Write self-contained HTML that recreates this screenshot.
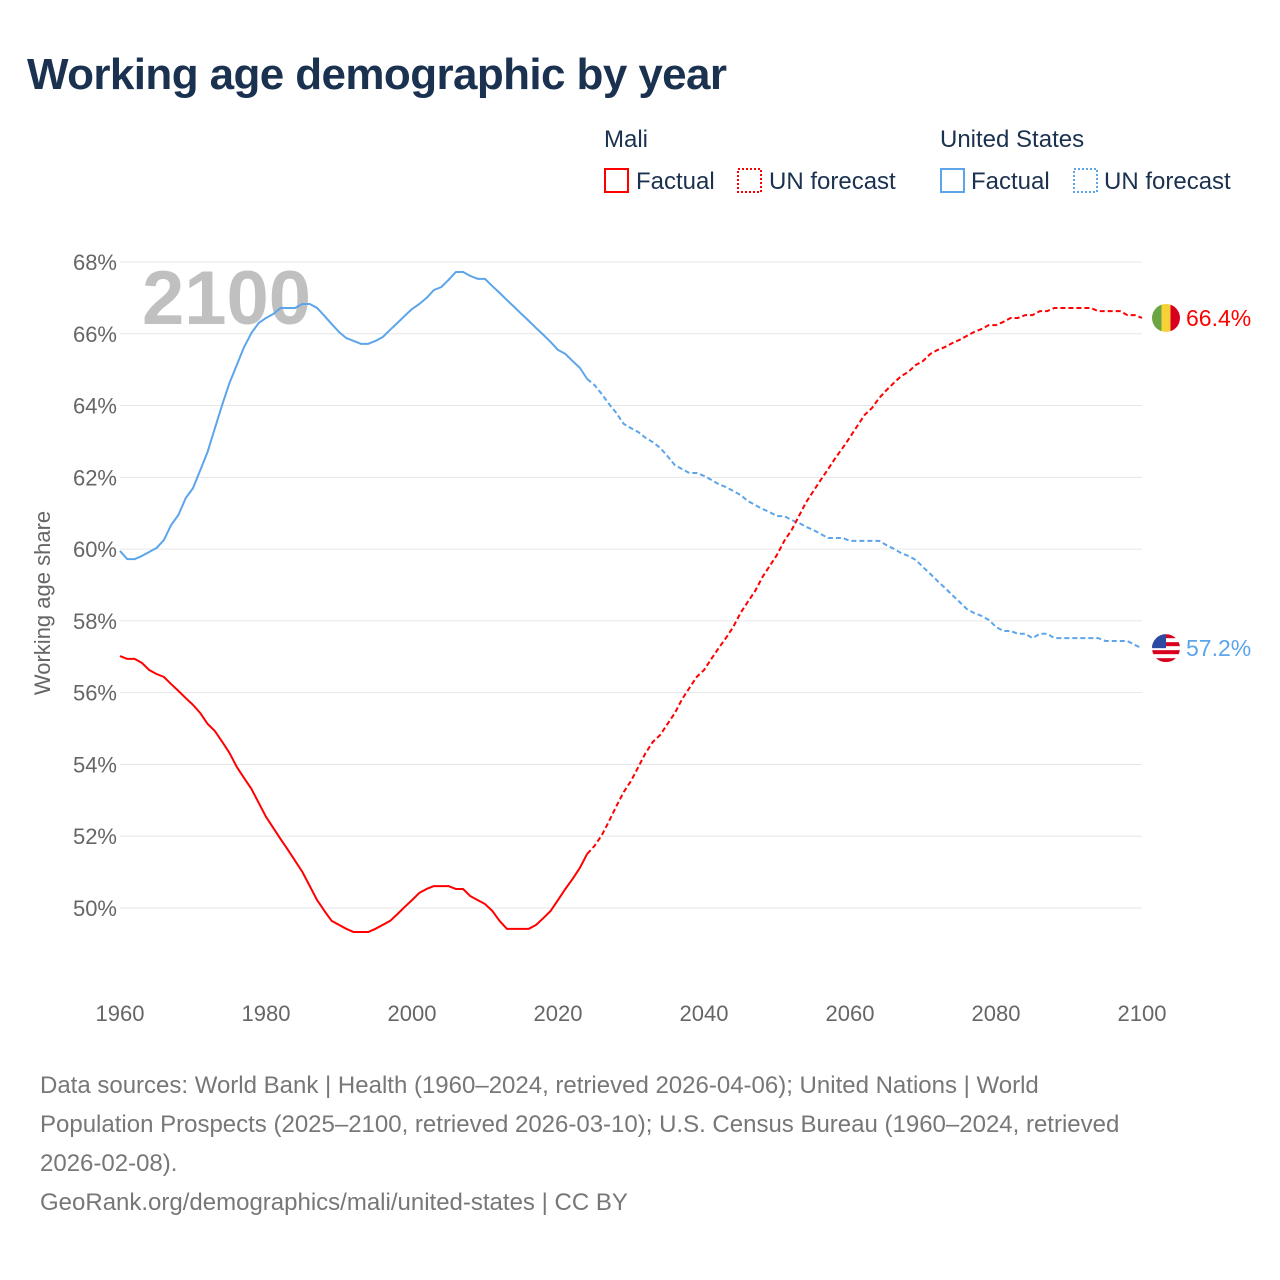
<!DOCTYPE html>
<html><head><meta charset="utf-8"><style>
body{margin:0;width:1280px;height:1280px;background:#fff;font-family:"Liberation Sans",sans-serif;overflow:hidden;position:relative}
.t{position:absolute;white-space:nowrap}
</style></head><body>
<div class="t" style="left:27px;top:50px;font-size:44px;font-weight:bold;color:#1b3150;letter-spacing:-0.6px">Working age demographic by year</div>
<svg width="1280" height="1280" style="position:absolute;left:0;top:0" id="chart">
<g font-size="24" fill="#1b3150">
<text x="604" y="147">Mali</text>
<text x="940" y="147">United States</text>
<g><rect x="605" y="169" width="23" height="23" fill="none" stroke="#f00" stroke-width="2"/><text x="636" y="189">Factual</text></g>
<g><rect x="738" y="169" width="23" height="23" fill="none" stroke="#f00" stroke-width="2" stroke-dasharray="2,2"/><text x="769" y="189">UN forecast</text></g>
<g><rect x="941" y="169" width="23" height="23" fill="none" stroke="#5ca5ea" stroke-width="2"/><text x="971" y="189">Factual</text></g>
<g><rect x="1074" y="169" width="23" height="23" fill="none" stroke="#5ca5ea" stroke-width="2" stroke-dasharray="2,2"/><text x="1104" y="189">UN forecast</text></g>
</g>
<text x="142" y="324" font-size="76" font-weight="bold" fill="#c0c0c0">2100</text>
<g id="grid"></g><g id="lines"></g>
<text transform="translate(50,603) rotate(-90)" text-anchor="middle" font-size="22" fill="#666">Working age share</text>
</svg>
<div class="t" style="left:40px;top:1066px;font-size:24px;line-height:39px;color:#777">Data sources: World Bank | Health (1960–2024, retrieved 2026-04-06); United Nations | World<br>Population Prospects (2025–2100, retrieved 2026-03-10); U.S. Census Bureau (1960–2024, retrieved<br>2026-02-08).<br>GeoRank.org/demographics/mali/united-states | CC BY</div>
<script>
const startYear=1960;
const lastFactualYear=2024;
const yTicks=[50,52,54,56,58,60,62,64,66,68];
const xTicks=[1960,1980,2000,2020,2040,2060,2080,2100];
const mali=[57.02,56.94,56.94,56.83,56.63,56.52,56.44,56.24,56.05,55.85,
55.66,55.43,55.13,54.93,54.63,54.32,53.93,53.62,53.32,52.93,
52.54,52.23,51.92,51.62,51.31,51.00,50.61,50.22,49.92,49.64,
49.53,49.42,49.33,49.33,49.33,49.42,49.53,49.64,49.83,50.03,
50.22,50.42,50.53,50.61,50.61,50.61,50.53,50.53,50.33,50.22,
50.11,49.92,49.64,49.42,49.42,49.42,49.42,49.53,49.72,49.92,
50.22,50.53,50.81,51.12,51.51,51.73,52.03,52.42,52.84,53.23,
53.54,53.93,54.32,54.63,54.82,55.13,55.43,55.82,56.13,56.44,
56.63,56.94,57.24,57.52,57.83,58.22,58.53,58.83,59.22,59.53,
59.84,60.23,60.53,60.92,61.31,61.62,61.93,62.23,62.54,62.82,
63.12,63.43,63.74,63.93,64.21,64.43,64.63,64.82,64.94,65.13,
65.24,65.44,65.55,65.63,65.74,65.83,65.94,66.05,66.13,66.24,
66.24,66.33,66.44,66.44,66.52,66.52,66.63,66.63,66.72,66.72,
66.72,66.72,66.72,66.72,66.63,66.63,66.63,66.63,66.52,66.52,
66.44];
const us=[59.95,59.72,59.72,59.81,59.92,60.03,60.25,60.67,60.95,61.42,
61.70,62.20,62.71,63.37,64.02,64.63,65.13,65.63,66.02,66.30,
66.44,66.55,66.72,66.72,66.72,66.83,66.83,66.72,66.50,66.27,
66.05,65.88,65.80,65.72,65.72,65.80,65.91,66.11,66.30,66.50,
66.69,66.83,67.00,67.22,67.30,67.50,67.72,67.72,67.61,67.53,
67.53,67.33,67.14,66.94,66.75,66.55,66.36,66.16,65.97,65.77,
65.55,65.44,65.24,65.05,64.74,64.57,64.32,64.04,63.79,63.49,
63.37,63.26,63.10,62.98,62.82,62.59,62.34,62.23,62.12,62.12,
62.04,61.93,61.81,61.73,61.62,61.51,61.34,61.23,61.12,61.03,
60.92,60.92,60.81,60.73,60.62,60.53,60.42,60.31,60.31,60.31,
60.23,60.23,60.23,60.23,60.23,60.11,60.01,59.89,59.81,59.70,
59.50,59.31,59.11,58.92,58.72,58.53,58.33,58.22,58.14,58.03,
57.83,57.72,57.72,57.64,57.64,57.52,57.64,57.64,57.52,57.52,
57.52,57.52,57.52,57.52,57.52,57.44,57.44,57.44,57.44,57.33,
57.24];
const X=y=>120+(y-1960)*(1022/140);
const Y=v=>908-(v-50)*(646/18);
const NS="http://www.w3.org/2000/svg";
const grid=document.getElementById('grid'),lines=document.getElementById('lines');
function mk(tag,attrs,parent){const e=document.createElementNS(NS,tag);for(const k in attrs)e.setAttribute(k,attrs[k]);parent.appendChild(e);return e;}
yTicks.forEach(t=>{
 const l=mk('line',{x1:120,x2:1142,y1:Y(t),y2:Y(t),stroke:'#e6e6e6','stroke-width':1},grid);
 
 
 const tx=mk('text',{x:117,y:Y(t)+8,'text-anchor':'end','font-size':22,fill:'#666'},grid);
 tx.textContent=t+'%';
 
 
});
xTicks.forEach(t=>{
 const tx=mk('text',{x:X(t),y:1021,'text-anchor':'middle','font-size':22,fill:'#666'},grid);
 tx.textContent=t;
 
 
});
function series(vals,color,name){
 const split=lastFactualYear-startYear;
 const p1=vals.slice(0,split+1).map((v,i)=>X(startYear+i)+','+Y(v)).join(' ');
 const p2=vals.slice(split).map((v,i)=>X(startYear+split+i)+','+Y(v)).join(' ');
 const a=mk('polyline',{points:p1,fill:'none',stroke:color,'stroke-width':2,'stroke-linejoin':'round'},lines);
 
 
 const b=mk('polyline',{points:p2,fill:'none',stroke:color,'stroke-width':2,'stroke-dasharray':'5,3'},lines);
 
 
}
series(us,'#5ca5ea','us');
series(mali,'#f00','mali');
const mv=mali[mali.length-1],uv=us[us.length-1];
const mx=1166,my=Y(mv);
const mf=mk('g',{},lines);


const cm=mk('clipPath',{id:'cm'},mf);mk('circle',{cx:mx,cy:my,r:14},cm);
const gm=mk('g',{'clip-path':'url(#cm)'},mf);
mk('rect',{x:mx-14,y:my-14,width:10,height:28,fill:'#6ca544'},gm);
mk('rect',{x:mx-4.5,y:my-14,width:9,height:28,fill:'#f6d237'},gm);
mk('rect',{x:mx+4.5,y:my-14,width:10,height:28,fill:'#d9001f'},gm);
const ml=mk('text',{x:1186,y:my+8,'font-size':23,fill:'#f00'},lines);
ml.textContent=mv.toFixed(1)+'%';


const ux=1166,uy=Y(uv);
const uf=mk('g',{},lines);


const cp=mk('clipPath',{id:'cu'},uf);mk('circle',{cx:ux,cy:uy,r:14},cp);
const gu=mk('g',{'clip-path':'url(#cu)'},uf);
mk('rect',{x:ux-14,y:uy-14,width:28,height:28,fill:'#fff'},gu);
for(let i=0;i<7;i+=2)mk('rect',{x:ux-14,y:uy-14+i*4,width:28,height:4,fill:'#d9001f'},gu);
mk('rect',{x:ux-14,y:uy-14,width:14,height:14,fill:'#2b4aa0'},gu);
const ul=mk('text',{x:1186,y:uy+8,'font-size':23,fill:'#5ca5ea'},lines);
ul.textContent=uv.toFixed(1)+'%';


</script>
</body></html>
